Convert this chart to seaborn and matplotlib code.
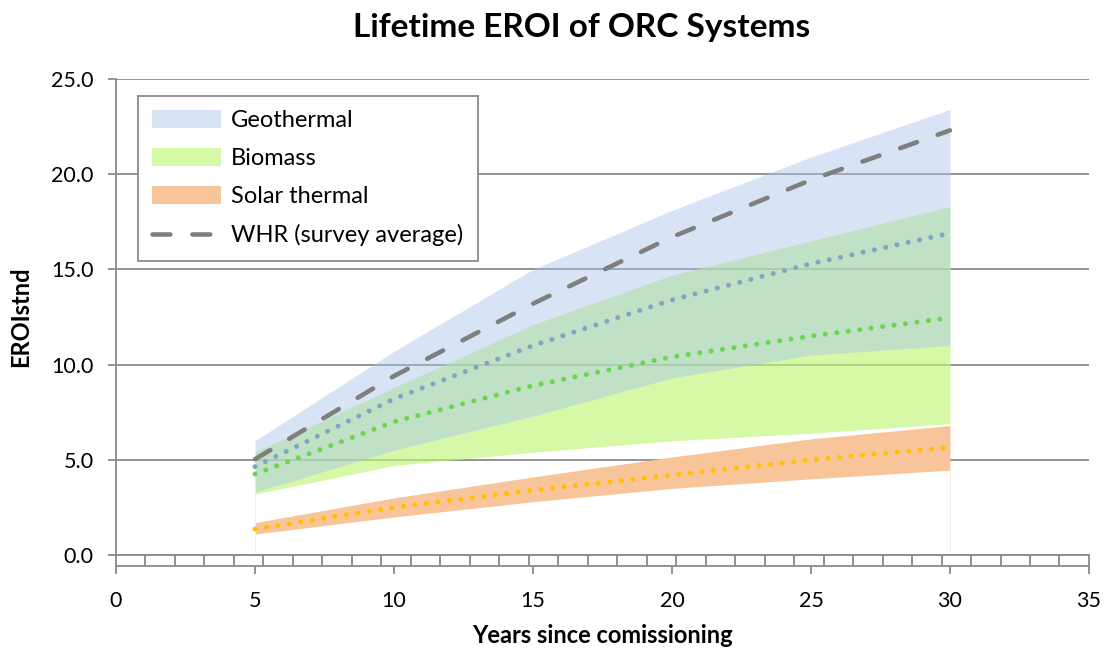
import numpy as np
import pandas as pd
import matplotlib
matplotlib.use("Agg")
import matplotlib.pyplot as plt
import seaborn as sns
from matplotlib.patches import Patch
from matplotlib.lines import Line2D

# values
years = [5, 10, 15, 20, 25, 30]

geo_low = [3.3, 5.5, 7.3, 9.3, 10.5, 11.0]
geo_high = [6.0, 10.7, 15.0, 18.1, 20.9, 23.4]
geo_mid = [4.64, 8.2, 11.0, 13.4, 15.3, 16.9]

bio_low = [3.2, 4.7, 5.4, 6.0, 6.4, 6.9]
bio_high = [5.4, 8.8, 12.1, 14.7, 16.5, 18.3]
bio_mid = [4.25, 7.0, 8.9, 10.4, 11.5, 12.46]

sol_low = [1.1, 2.0, 2.8, 3.5, 4.0, 4.46]
sol_high = [1.7, 3.0, 4.1, 5.15, 6.1, 6.8]
sol_mid = [1.36, 2.5, 3.4, 4.2, 5.0, 5.65]

whr = [5.03, 9.4, 13.2, 16.7, 19.7, 22.3]

df = pd.DataFrame({"year": years, "geo_mid": geo_mid, "bio_mid": bio_mid,
                   "sol_mid": sol_mid, "whr": whr})

sns.set_theme(style="white")
plt.rcParams['font.family'] = ['Lato', 'DejaVu Sans']
plt.rcParams['text.color'] = 'black'
plt.rcParams['axes.labelcolor'] = 'black'

fig = plt.figure(figsize=(11.07, 6.48), dpi=100)
ax = fig.add_axes([0.1048, 0.1435, 0.8789, 0.7346])

grid_c = '#8a8a8a'

# bands
ax.fill_between(years, sol_low, sol_high, color='#F8C59A', lw=0, zorder=2)
ax.fill_between(years, bio_low, bio_high, color='#C0F77A', alpha=0.65, lw=0, zorder=3)
ax.fill_between(years, geo_low, geo_high, color='#A9C4EB', alpha=0.45, lw=0, zorder=4)
ax.vlines([years[0], years[-1]], 0, [bio_low[0], sol_low[-1]], color='#EDF3E2', lw=0.8, zorder=2)

dot = (0, (0.01, 2.3))
sns.lineplot(data=df, x="year", y="geo_mid", ax=ax, color='#7FA5C4', lw=3.6,
             zorder=6).lines[-1].set(linestyle=dot, dash_capstyle='round')
sns.lineplot(data=df, x="year", y="bio_mid", ax=ax, color='#69D650', lw=3.6,
             zorder=6).lines[-1].set(linestyle=dot, dash_capstyle='round')
sns.lineplot(data=df, x="year", y="sol_mid", ax=ax, color='#FFC000', lw=3.6,
             zorder=6).lines[-1].set(linestyle=dot, dash_capstyle='round')
sns.lineplot(data=df, x="year", y="whr", ax=ax, color='#7F7F7F', lw=3.3,
             zorder=7).lines[-1].set(linestyle=(0, (3.9, 4.8)), dash_capstyle='round')

ax.set_xlim(0, 35)
ax.set_ylim(0, 25)
ax.set_yticks(np.arange(0, 26, 5))
ax.set_yticklabels([f"{v:.1f}" for v in np.arange(0, 26, 5)])
ax.set_xticks(np.arange(0, 36, 5))
ax.yaxis.grid(True, color=grid_c, lw=1.3, zorder=1)
ax.set_axisbelow(True)

for s in ['top', 'right']:
    ax.spines[s].set_visible(False)
ax.spines['left'].set_color(grid_c)
ax.spines['left'].set_linewidth(1.3)
ax.spines['bottom'].set_color(grid_c)
ax.spines['bottom'].set_linewidth(1.3)
ax.spines['bottom'].set_position(('outward', 8))
ax.tick_params(axis='both', which='major', direction='out', length=6, width=1.3,
               color=grid_c, labelsize=15.5, labelcolor='black',
               left=True, bottom=True)
ax.tick_params(axis='y', pad=10)
ax.tick_params(axis='x', pad=12)

# category tick marks hanging from the zero line
ax2 = ax.twiny()
ax2.set_xlim(0, 33)
ax2.set_xticks(np.arange(0, 34))
ax2.xaxis.set_ticks_position('bottom')
ax2.tick_params(axis='x', direction='out', length=8, width=1.3, color=grid_c,
                labelbottom=False, labeltop=False)
for s in ['top', 'right', 'left']:
    ax2.spines[s].set_visible(False)
ax2.spines['bottom'].set_color(grid_c)
ax2.spines['bottom'].set_linewidth(1.3)

ax.set_xlabel("Years since comissioning", fontsize=17, fontweight='bold', labelpad=9)
ax.set_ylabel("EROIstnd", fontsize=17, fontweight='bold', labelpad=14)
fig.suptitle("Lifetime EROI of ORC Systems", fontsize=24, fontweight='bold',
             x=0.525, y=0.98)

handles = [
    Patch(facecolor='#A9C4EB', alpha=0.45, lw=0),
    Patch(facecolor='#C0F77A', alpha=0.65, lw=0),
    Patch(facecolor='#F8C59A', lw=0),
    Line2D([], [], color='#7F7F7F', lw=3.3, linestyle=(0, (3.9, 4.8)), dash_capstyle='round'),
]
labels = ["Geothermal", "Biomass", "Solar thermal", "WHR (survey average)"]
leg = ax.legend(handles, labels, loc='upper left', bbox_to_anchor=(0.0226, 0.964),
                borderaxespad=0, fontsize=17, frameon=True, fancybox=False, framealpha=1,
                edgecolor='#8a8a8a', handlelength=2.9, handleheight=0.75,
                labelspacing=0.72, borderpad=0.6, handletextpad=0.45)
leg.get_frame().set_linewidth(1.3)
leg.set_zorder(10)

fig.savefig("out.png", dpi=100)
